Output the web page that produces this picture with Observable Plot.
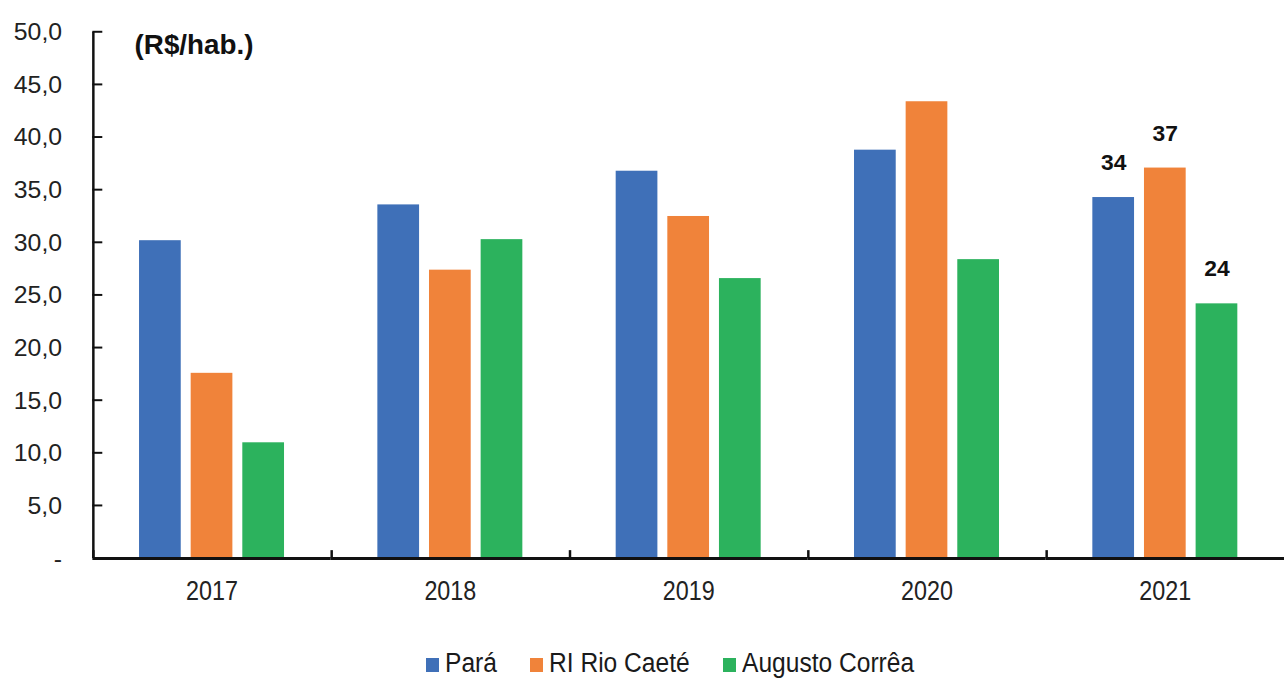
<!DOCTYPE html>
<html>
<head>
<meta charset="utf-8">
<script src="https://cdn.jsdelivr.net/npm/d3@7"></script>
<script src="https://cdn.jsdelivr.net/npm/@observablehq/plot@0.6"></script>
<style>
  html, body { margin: 0; padding: 0; background: #fff; }
  body { width: 1284px; height: 679px; overflow: hidden; position: relative; font-family: "Liberation Sans", Arial, sans-serif; }
  #chart { position: absolute; left: 0; top: 0; width: 1284px; height: 625px; overflow: hidden; }
  #legend { position: absolute; left: 426px; top: 648px; display: flex; align-items: center; white-space: nowrap;
            font-family: "Liberation Sans", Arial, sans-serif; font-size: 27px; color: #1a1a1a; line-height: 30px; }
  #legend .item { display: flex; align-items: center; margin-right: 33px; }
  #legend .sw { width: 13px; height: 14px; margin-right: 6px; margin-top: 3px; flex: none; }
  #legend .lbl { display: inline-block; transform: scaleX(0.91); transform-origin: 0 50%; }
</style>
</head>
<body>
<div id="chart"></div>
<div id="legend"></div>
<script>
// ---- data ----
const years = ["2017", "2018", "2019", "2020", "2021"];
const series = ["Pará", "RI Rio Caeté", "Augusto Corrêa"];
const colors = ["#3f70b8", "#f0833a", "#2cb25d"];
const para = [30.2, 33.6, 36.8, 38.8, 34.3];
const rioCaete = [17.6, 27.4, 32.5, 43.4, 37.1];
const augustoCorrea = [11.0, 30.3, 26.6, 28.4, 24.2];
const yTicks = [0, 5, 10, 15, 20, 25, 30, 35, 40, 45, 50];
const unitLabel = "(R$/hab.)";
const labeledYear = "2021";

// ---- table ----
const seriesValues = [para, rioCaete, augustoCorrea];
const data = [];
years.forEach((yr, i) => series.forEach((s, j) => data.push({year: yr, series: s, value: seriesValues[j][i]})));
const labelData = data.filter(d => d.year === labeledYear);

const yFmt = d => d === 0 ? "-" : d.toFixed(1).replace(".", ",");
const regular = "'Liberation Sans', Arial, sans-serif";

const chart = Plot.plot({
  width: 1293,
  height: 625,
  marginLeft: 93,
  marginRight: 0,
  marginTop: 32,
  marginBottom: 63,
  style: {background: "white", fontFamily: regular, color: "#1a1a1a"},
  fx: {domain: years, padding: 0, label: null},
  x: {domain: series, paddingInner: 0.19, paddingOuter: 0.86, axis: null},
  y: {domain: [0, 50], label: null},
  color: {domain: series, range: colors},
  marks: [
    Plot.barY(data, {fx: "year", x: "series", y: "value", fill: "series"}),
    Plot.ruleY([0], {stroke: "#111", strokeWidth: 3}),
    Plot.axisY({ticks: yTicks, tickSize: 0, tickPadding: 31, tickFormat: yFmt, fontSize: 25, label: null, fill: "#222"}),
    Plot.axisFx({anchor: "bottom", tickSize: 0, tickPadding: 22, fontSize: 28, label: null, fill: "#222"}),
    Plot.text(labelData, {fx: "year", x: "series", y: "value", text: d => String(Math.round(d.value)),
      dy: -35, fontSize: 23, fontWeight: "bold", fill: "#111"}),
    Plot.text([{year: years[0], t: unitLabel}], {fx: "year", text: "t", frameAnchor: "top-left",
      textAnchor: "start", dx: 42, dy: 2, fontSize: 28, fontWeight: "bold", fill: "#111"})
  ]
});
document.getElementById("chart").appendChild(chart);

const svg = d3.select(chart);
// condensed look for the year labels
svg.selectAll("g[aria-label='fx-axis tick label'] text").each(function() {
  const t = this.getAttribute("transform") || "";
  this.setAttribute("transform", t + " scale(0.84,1)");
});

// axis lines / tick marks drawn from the plot's own scales
const ys = chart.scale("y"), fxs = chart.scale("fx");
const x0 = fxs.apply(years[0]);
const g = svg.append("g").attr("stroke", "#111").attr("fill", "none");
g.append("line").attr("x1", x0 + 1).attr("x2", x0 + 1).attr("y1", ys.apply(50)).attr("y2", ys.apply(0)).attr("stroke-width", 2.5);
yTicks.filter(t => t > 0).forEach(t => {
  g.append("line").attr("x1", x0).attr("x2", x0 + 10).attr("y1", ys.apply(t)).attr("y2", ys.apply(t)).attr("stroke-width", 2);
});
years.forEach(yr => {
  const bx = fxs.apply(yr);
  g.append("line").attr("x1", bx + 1).attr("x2", bx + 1).attr("y1", ys.apply(0)).attr("y2", ys.apply(0) - 8).attr("stroke-width", 2.5);
});

// legend
const legend = d3.select("#legend");
series.forEach((s, i) => {
  const it = legend.append("div").attr("class", "item");
  it.append("div").attr("class", "sw").style("background", colors[i]);
  it.append("span").attr("class", "lbl").text(s);
});
legend.selectAll(".lbl").each(function() {
  const w = this.offsetWidth;
  this.style.marginRight = (-0.09 * w) + "px";
});
</script>
</body>
</html>
